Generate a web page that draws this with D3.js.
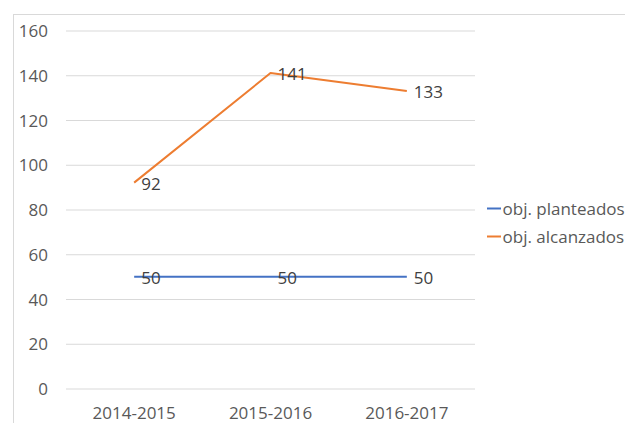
<!DOCTYPE html>
<html><head><meta charset="utf-8">
<script src="https://cdn.jsdelivr.net/npm/d3@7"></script>
<style>body{margin:0;background:#fff}svg{display:block}</style>
</head><body>
<svg id="c" width="625" height="423"></svg>
<script>
const categories = ["2014-2015", "2015-2016", "2016-2017"];
const seriesNames = ["obj. planteados", "obj. alcanzados"];
const planteados = [50, 50, 50];
const alcanzados = [92, 141, 133];
const yTicks = [0, 20, 40, 60, 80, 100, 120, 140, 160];
const colors = ["#4472C4", "#ED7D31"];

(function () {
const svg = d3.select("#c");
const font = "'Open Sans', sans-serif";
const fs = "17px";
const pLeft = 66, pRight = 475, pTop = 30.5, pBottom = 388.5;

svg.append("rect").attr("x", 13.5).attr("y", 14.5).attr("width", 700).attr("height", 500)
  .attr("fill", "none").attr("stroke", "#d9d9d9").attr("stroke-width", 1);

const x = d3.scaleBand().domain(categories).range([pLeft, pRight]);
const y = d3.scaleLinear().domain([0, 160]).range([pBottom, pTop]);

const yAxis = svg.append("g").attr("transform", `translate(${pLeft},0)`)
  .call(d3.axisLeft(y).tickValues(yTicks).tickSize(-(pRight - pLeft)).tickPadding(18));
yAxis.select(".domain").remove();
yAxis.selectAll(".tick line").attr("stroke", "#d9d9d9");
yAxis.selectAll(".tick text").attr("fill", "#595959").style("font-family", font).style("font-size", fs)
  .attr("dy", "0.36em");

const xAxis = svg.append("g").attr("transform", `translate(0,${pBottom})`)
  .call(d3.axisBottom(x).tickSize(0).tickPadding(0));
xAxis.select(".domain").remove();
xAxis.selectAll(".tick text").attr("fill", "#595959").style("font-family", font).style("font-size", fs)
  .attr("y", 30.5).attr("dy", null);

const series = [planteados, alcanzados];
const line = d3.line().x((d, i) => x(categories[i]) + x.bandwidth() / 2).y(d => y(d));
series.forEach((s, k) => {
  svg.append("path").datum(s).attr("d", line).attr("fill", "none")
    .attr("stroke", colors[k]).attr("stroke-width", 2).attr("stroke-linejoin", "round");
});
series.forEach((s, k) => {
  svg.selectAll(null).data(s).enter().append("text")
    .attr("x", (d, i) => x(categories[i]) + x.bandwidth() / 2 + 7)
    .attr("y", d => y(d) + 7)
    .attr("fill", "#404040").style("font-family", font).style("font-size", fs)
    .text(d => d);
});

const leg = svg.append("g");
seriesNames.forEach((n, k) => {
  const ly = 208.5 + k * 28;
  leg.append("line").attr("x1", 487).attr("x2", 501).attr("y1", ly).attr("y2", ly)
    .attr("stroke", colors[k]).attr("stroke-width", 2);
  leg.append("text").attr("x", 502.5).attr("y", ly + 6).attr("fill", "#595959")
    .style("font-family", font).style("font-size", fs).text(n);
});
})();
</script>
</body></html>
